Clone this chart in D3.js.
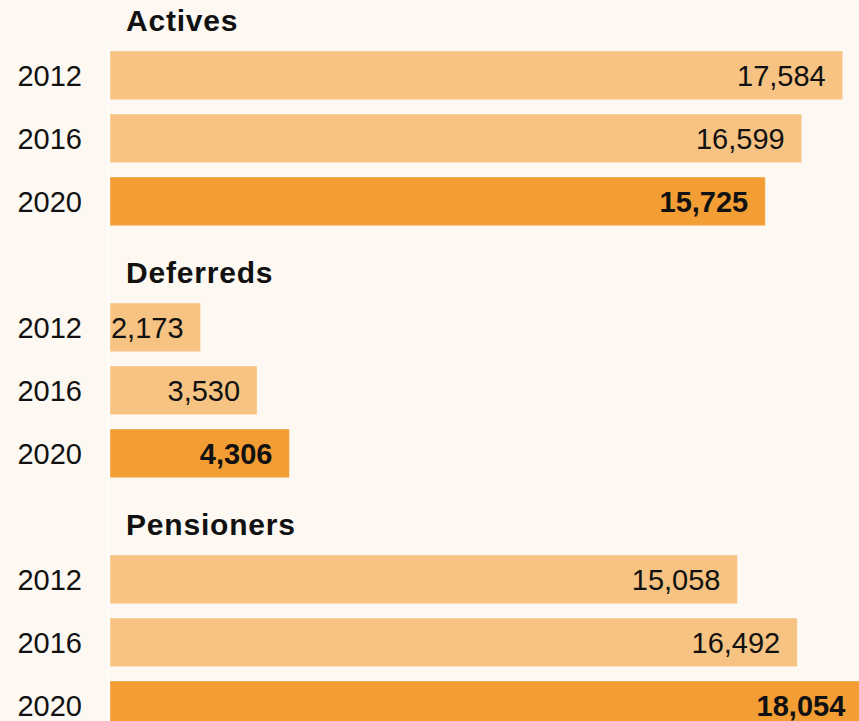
<!DOCTYPE html>
<html>
<head>
<meta charset="utf-8">
<script src="https://cdn.jsdelivr.net/npm/d3@7"></script>
<style>
  body { margin: 0; background: #fdf8f2; }
  svg { display: block; font-family: "Liberation Sans", Arial, sans-serif; }
</style>
</head>
<body>
<div id="main"></div>
<script>
// data
var groups = ['Actives', 'Deferreds', 'Pensioners'];
var years = ['2012', '2016', '2020'];
var actives = [17584, 16599, 15725];
var deferreds = [2173, 3530, 4306];
var pensioners = [15058, 16492, 18054];
var seriesValues = [actives, deferreds, pensioners];

var width = 859, height = 721;
var lightColor = '#f7c382', darkColor = '#f39d35';

var svg = d3.select('#main').append('svg')
			.attr('width', width)
			.attr('height', height);

svg.append('rect')
   .attr('width', width)
   .attr('height', height)
   .attr('fill', '#fdf8f2');

// one slot for each header plus one per year
var slots = [];
groups.forEach(function(g, gi){
	slots.push(g + '|head');
	years.forEach(function(yr){ slots.push(g + '|' + yr); });
});

var y = d3.scaleBand()
		  .domain(slots)
		  .range([-19.15, -19.15 + slots.length * 63])
		  .paddingInner(0.227)
		  .paddingOuter(0.1135);

var allValues = d3.merge(seriesValues);
var x = d3.scaleLinear()
		  .domain([0, d3.max(allValues)])
		  .range([110, 862.3]);

// white divider line
svg.append('line')
   .attr('x1', 108.5)
   .attr('x2', 108.5)
   .attr('y1', 45)
   .attr('y2', height)
   .attr('stroke', '#ffffff')
   .attr('stroke-width', 1.5);

var rows = [];
groups.forEach(function(g, gi){
	years.forEach(function(yr, yi){
		rows.push({group: g, year: yr, value: seriesValues[gi][yi], last: yi == years.length - 1});
	});
});

// group headers
svg.selectAll('text.head')
   .data(groups)
   .enter().append('text')
   .attr('class', 'head')
   .attr('x', 126)
   .attr('y', function(d){ return y(d + '|head') + y.bandwidth() / 2 + 18.5; })
   .attr('font-size', 30)
   .attr('font-weight', 'bold')
   .attr('letter-spacing', 0.8)
   .attr('fill', '#111')
   .text(function(d){ return d; });

// year labels
svg.selectAll('text.year')
   .data(rows)
   .enter().append('text')
   .attr('class', 'year')
   .attr('x', 82)
   .attr('y', function(d){ return y(d.group + '|' + d.year) + y.bandwidth() / 2; })
   .attr('dy', '0.36em')
   .attr('text-anchor', 'end')
   .attr('font-size', 29)
   .attr('fill', '#111')
   .text(function(d){ return d.year; });

// bars
svg.selectAll('rect.bar')
   .data(rows)
   .enter().append('rect')
   .attr('class', 'bar')
   .attr('x', x(0))
   .attr('y', function(d){ return y(d.group + '|' + d.year); })
   .attr('width', function(d){ return x(d.value) - x(0); })
   .attr('height', y.bandwidth())
   .attr('fill', function(d){ return d.last ? darkColor : lightColor; })
   .attr('stroke', 'rgba(255,255,255,0.35)')
   .attr('stroke-width', 1);

// value labels
svg.selectAll('text.value')
   .data(rows)
   .enter().append('text')
   .attr('class', 'value')
   .attr('x', function(d){ return x(d.value) - 17; })
   .attr('y', function(d){ return y(d.group + '|' + d.year) + y.bandwidth() / 2; })
   .attr('dy', '0.36em')
   .attr('text-anchor', 'end')
   .attr('font-size', 29)
   .attr('font-weight', function(d){ return d.last ? 'bold' : 'normal'; })
   .attr('fill', '#111')
   .text(function(d){ return d3.format(',')(d.value); });
</script>
</body>
</html>
